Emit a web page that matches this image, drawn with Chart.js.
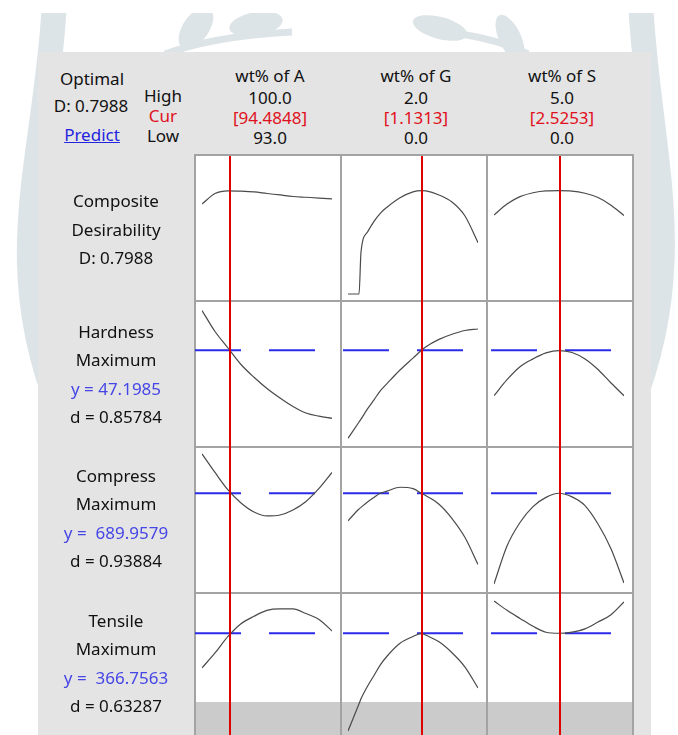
<!DOCTYPE html>
<html>
<head>
<meta charset="utf-8">
<script src="https://cdn.jsdelivr.net/npm/chart.js@4.4.0/dist/chart.umd.min.js"></script>
<style>
  body { margin: 0; width: 678px; height: 735px; overflow: hidden; background: #fff; position: relative;
         font-family: "Noto Sans", "Open Sans", sans-serif; font-size: 17px; color: #111; }
  #wm { position: absolute; left: 0; top: 0; }
  #panel { position: absolute; left: 38px; top: 52px; width: 613px; height: 700px; background: #e4e4e4; }
  #grid { position: absolute; left: 194px; top: 154px; width: 440px; height: 586px; background: #a3a3a3; }
  .cell { position: absolute; width: 144px; height: 144px; background: #fff; }
  .cell.last { background: linear-gradient(#fff 0 108px, #cbcbcb 108px); }
  canvas { position: absolute; }
  .t { position: absolute; width: 200px; text-align: center; line-height: 20px; white-space: pre; }
</style>
</head>
<body>
<svg id="wm" width="678" height="735">
  <g fill="none" stroke="#dde4e8" stroke-width="25">
    <path d="M 54 10 C 45 160, 0 260, 60 410"/>
    <path d="M 641 10 C 650 160, 690 260, 630 410"/>
  </g>
  <g fill="#dde4e8">
    <path d="M 165 54 Q 215 36 292 32" stroke="#dde4e8" stroke-width="7" fill="none"/>
    <ellipse cx="196" cy="28" rx="13" ry="24" transform="rotate(35 196 28)"/>
    <ellipse cx="256" cy="24" rx="27" ry="12" transform="rotate(-10 256 24)"/>
    <path d="M 440 32 Q 492 36 528 54" stroke="#dde4e8" stroke-width="7" fill="none"/>
    <ellipse cx="440" cy="28" rx="28" ry="11" transform="rotate(15 440 28)"/>
    <ellipse cx="510" cy="38" rx="11" ry="25" transform="rotate(-25 510 38)"/>
  </g>
  <rect x="0" y="0" width="678" height="13" fill="#fff"/>
</svg>
<div id="panel"></div>
<div id="grid"></div>
<script>
// factor settings
const factors = ['wt% of A', 'wt% of G', 'wt% of S'];
const highs = [100.0, 2.0, 5.0];
const curs = [94.4848, 1.1313, 2.5253];
const lows = [93.0, 0.0, 0.0];

// responses
const composite = 0.7988;
const responses = ['Hardness', 'Compress', 'Tensile'];
const goals = ['Maximum', 'Maximum', 'Maximum'];
const predicted = [47.1985, 689.9579, 366.7563];
const desirab = [0.85784, 0.93884, 0.63287];

// sample points along each factor
const xA = [93, 93.7, 94.4, 95.1, 95.8, 96.5, 97.2, 97.9, 98.6, 99.3, 100];
const xG = [0, 0.17, 0.2, 0.3, 0.4, 0.5, 0.6, 0.8, 1.0, 1.1313, 1.2, 1.4, 1.6, 1.8, 2.0];
const xS = [0, 0.5, 1, 1.5, 2, 2.5, 3, 3.5, 4, 4.5, 5];

// composite desirability traces
const desA = [0.696, 0.777, 0.798, 0.795, 0.789, 0.777, 0.766, 0.754, 0.748, 0.742, 0.735];
const desG = [0, 0, 0.325, 0.479, 0.562, 0.626, 0.671, 0.744, 0.790, 0.7988, 0.797, 0.766, 0.711, 0.603, 0.397];
const desS = [0.611, 0.696, 0.753, 0.783, 0.797, 0.7988, 0.796, 0.779, 0.746, 0.687, 0.607];

// hardness traces
const hardA = [51.18, 49.08, 47.43, 45.78, 44.50, 43.38, 42.43, 41.58, 40.93, 40.61, 40.40];
const hardG = [38.40, 40.03, 40.32, 41.34, 42.25, 43.17, 43.87, 45.23, 46.42, 47.20, 47.56, 48.29, 48.80, 49.18, 49.33];
const hardS = [42.66, 44.26, 45.56, 46.34, 46.94, 47.17, 46.98, 46.33, 45.28, 43.93, 42.66];

// compressive traces
const compA = [729.3, 710.8, 693.3, 680.3, 671.3, 667.3, 668.3, 673.3, 681.8, 694.8, 710.8];
const compG = [662.5, 674.3, 675.9, 681.2, 685.8, 690.2, 692.1, 696.0, 694.6, 689.96, 687.5, 679.0, 664.7, 645.8, 618.8];
const compS = [599.3, 637.3, 660.8, 676.7, 685.9, 690.0, 686.4, 677.7, 659.3, 634.6, 600.3];

// tensile traces
const tensA = [332.1, 347.1, 363.6, 376.4, 383.8, 389.7, 391.1, 391.1, 386.5, 380.6, 369.1];
const tensG = [269.1, 296.3, 301.2, 313.8, 324.6, 335.4, 343.8, 356.8, 363.6, 366.76, 364.8, 358.2, 347.3, 333.0, 312.1];
const tensS = [399.1, 389.7, 381.6, 373.8, 367.8, 366.8, 368.0, 371.2, 378.0, 385.4, 398.1];

const xs = [xA, xG, xS];
const rows = [[desA, desG, desS], [hardA, hardG, hardS], [compA, compG, compS], [tensA, tensG, tensS]];
const targets = [null].concat(predicted);
// y range of each row of panels
const rowMin = [-0.0465, 37.63, 591.26, 262.06];
const rowMax = [1.0826, 52.23, 737.26, 408.06];

function text(str, cx, cy, color, extra) {
  const d = document.createElement('div');
  d.className = 't';
  d.textContent = str;
  d.style.left = (cx - 100) + 'px';
  d.style.top = (cy - 10) + 'px';
  if (color) d.style.color = color;
  if (extra) Object.assign(d.style, extra);
  document.body.appendChild(d);
}

// header
text('Optimal', 92, 79);
text('D: ' + composite.toFixed(4), 91, 106);
text('Predict', 92, 135, '#2323e0', { textDecoration: 'underline' });
text('High', 163, 96);
text('Cur', 163, 116, '#e01020');
text('Low', 163, 136);
factors.forEach((f, c) => {
  const cx = 270 + 146 * c;
  text(f, cx, 76);
  text(highs[c].toFixed(1), cx, 98);
  text('[' + curs[c].toFixed(4) + ']', cx, 118, '#e01020');
  text(lows[c].toFixed(1), cx, 138);
});

// row labels
text('Composite', 116, 201);
text('Desirability', 116, 230);
text('D: ' + composite.toFixed(4), 116, 258);
const labelTops = [332, 476, 621];
responses.forEach((r, i) => {
  const y0 = labelTops[i];
  text(r, 116, y0);
  text(goals[i], 116, y0 + 28);
  text('y = ' + (i > 0 ? ' ' : '') + predicted[i].toFixed(4), 116, y0 + 57, '#4646e6');
  text('d = ' + desirab[i].toFixed(5), 116, y0 + 85);
});

const markers = {
  id: 'markers',
  beforeDatasetsDraw(chart, args, o) {
    if (o.target == null) return;
    const ctx = chart.ctx;
    const y = chart.scales.y.getPixelForValue(o.target);
    ctx.save();
    ctx.strokeStyle = '#2b2be8';
    ctx.lineWidth = 2;
    ctx.setLineDash([46, 28]);
    ctx.lineDashOffset = o.dashOffset;
    ctx.beginPath();
    ctx.moveTo(0, y);
    ctx.lineTo(chart.width, y);
    ctx.stroke();
    ctx.restore();
  },
  afterDatasetsDraw(chart, args, o) {
    const ctx = chart.ctx;
    const x = Math.round(chart.scales.x.getPixelForValue(o.cur));
    ctx.save();
    ctx.strokeStyle = '#e00000';
    ctx.lineWidth = 2;
    ctx.beginPath();
    ctx.moveTo(x, o.top);
    ctx.lineTo(x, chart.height);
    ctx.stroke();
    ctx.restore();
  }
};

const grid = document.getElementById('grid');
for (let r = 0; r < 4; r++) {
  for (let c = 0; c < 3; c++) {
    const cell = document.createElement('div');
    cell.className = 'cell' + (r === 3 ? ' last' : '');
    cell.style.left = (2 + 146 * c) + 'px';
    cell.style.top = (2 + 146 * r) + 'px';
    grid.appendChild(cell);

    const cv = document.createElement('canvas');
    cv.width = 146; cv.height = 146;
    cv.style.left = (146 * c) + 'px';
    cv.style.top = (146 * r) + 'px';
    grid.appendChild(cv);

    new Chart(cv, {
      type: 'line',
      data: {
        datasets: [{
          data: xs[c].map((x, i) => ({ x: x, y: rows[r][c][i] })),
          borderColor: '#4a4a4a',
          borderWidth: 1.2,
          pointRadius: 0,
          cubicInterpolationMode: 'monotone',
          fill: false
        }]
      },
      options: {
        responsive: false,
        animation: false,
        events: [],
        layout: { padding: { left: 8, right: 8, top: 0, bottom: 0 } },
        scales: {
          x: { type: 'linear', min: lows[c], max: highs[c], display: false },
          y: { min: rowMin[r], max: rowMax[r], display: false }
        },
        plugins: {
          legend: { display: false },
          tooltip: { enabled: false },
          markers: { target: targets[r], cur: curs[c], dashOffset: ((146 * c - 1) % 74 + 74) % 74, top: r === 0 ? 2 : 0 }
        }
      },
      plugins: [markers]
    });
  }
}
</script>
</body>
</html>
